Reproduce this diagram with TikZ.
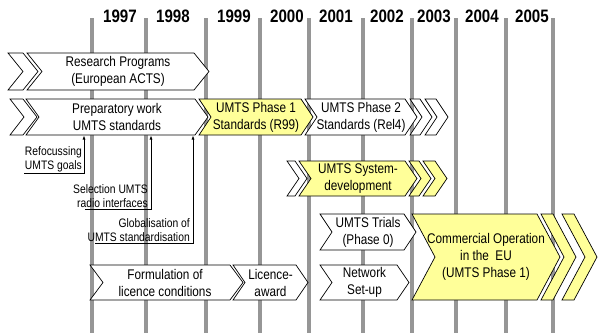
\documentclass[tikz,border=0pt]{standalone}
\usepackage{fontspec}
\setmainfont{Liberation Sans}[FakeStretch=0.84]
\usetikzlibrary{arrows.meta}

\definecolor{paleyellow}{RGB}{255,255,153}
\definecolor{gridgrey}{RGB}{150,150,150}

% chevron outline: [style]{left x}{right x}{top y}{bottom y}{point depth}
\newcommand{\chev}[6][]{%
  \filldraw[chevbox,#1] (#2,#4) -- (#3,#4) -- ({#3+#6},{(#4+#5)/2})
    -- (#3,#5) -- (#2,#5) -- ({#2+#6},{(#4+#5)/2}) -- cycle;}

\begin{document}
\begin{tikzpicture}[x=1pt, y=-1pt,
  every node/.style = {inner sep=1pt, align=center, text=black},
  chevbox/.style = {draw=black, line width=0.7pt, fill=white, line join=miter},
  yellowbox/.style = {fill=paleyellow},
  phase/.style = {font=\fontsize{14}{17}\selectfont},
  note/.style = {align=right, font=\fontsize{12.3}{14.5}\selectfont},
  year/.style = {anchor=base, font=\fontsize{18}{20}\selectfont\bfseries},
  gridline/.style = {draw=gridgrey, line width=4.5pt},
  pointer/.style = {draw=black, line width=0.7pt, -{Latex[length=4pt,width=3pt]}}]
  \useasboundingbox (0,0) rectangle (598,333);

  % time grid
  \foreach \gx in {92,146,206,260,309,363,412,456,506,553}
    \draw[gridline] (\gx,18) -- (\gx,333);
  \foreach \yr/\xc in {1997/120,1998/173,1999/234,2000/287,2001/336,
                       2002/387,2003/434,2004/482,2005/532}
    \node[year] (y\yr) at (\xc,22) {\yr};

  % research and standards
  \chev{8}{23}{53}{90}{15}
  \chev{27}{194}{53}{90}{15}
  \node[phase] (research) at (118,71.5) {Research Programs\\(European ACTS)};
  \chev{10}{23}{99}{135}{14}
  \chev{26}{195}{99}{135}{13}
  \node[phase] (prepwork) at (117,117) {Preparatory work\\UMTS standards};
  \chev[yellowbox]{199}{301}{99}{135}{12}
  \node[phase] (phase1) at (256,117) {UMTS Phase 1\\Standards (R99)};
  \chev{305}{405}{99}{135}{12}
  \node[phase] (phase2) at (361,117) {UMTS Phase 2\\Standards (Rel4)};
  \chev{410}{420}{99}{135}{12}
  \chev{425}{436}{99}{135}{12}

  % system development
  \chev{287}{295}{161}{196}{12}
  \chev[yellowbox]{299}{405}{161}{196}{12}
  \node[phase] (sysdev) at (358,178.5) {UMTS System-\\development};
  \chev[yellowbox]{409}{419}{161}{196}{12}
  \chev[yellowbox]{423}{435}{161}{196}{12}

  % trials and operation
  \chev{320}{404}{214}{250}{12}
  \node[phase] (trials) at (368,232) {UMTS Trials\\(Phase 0)};
  \chev[yellowbox]{412}{537}{214}{300}{23}
  \node[phase] (commercial) at (486,257) {Commercial Operation\\in the~ EU\\(UMTS Phase 1)};
  \chev[yellowbox]{541}{553}{214}{300}{23}
  \chev[yellowbox]{562}{574}{214}{300}{23}

  % licensing
  \chev{90}{230}{265}{300}{13}
  \node[phase] (formulation) at (165,282.5) {Formulation of\\licence conditions};
  \chev{233}{296}{265}{300}{12}
  \node[phase] (licence) at (270.5,282.5) {Licence-\\award};
  \chev{320}{397}{265}{300}{12}
  \node[phase] (network) at (364.5,282.5) {Network\\Set-up};

  % milestones
  \coordinate (tgt1) at (84,135.5);
  \coordinate (tgt2) at (151,135.5);
  \coordinate (tgt3) at (193,135.5);
  \node[note, anchor=south east] (refocus) at (83,173.5) {Refocussing\\UMTS goals};
  \node[note, anchor=south east] (selection) at (149,209) {Selection UMTS\\radio interfaces};
  \node[note, anchor=south east] (globalis) at (191,243) {Globalisation of\\UMTS standardisation};
  \draw[pointer] ([xshift=-59pt]refocus.south east) -| (tgt1);
  \draw[pointer] ([xshift=-64pt]selection.south east) -| (tgt2);
  \draw[pointer] ([xshift=-96pt]globalis.south east) -| (tgt3);
\end{tikzpicture}
\end{document}
